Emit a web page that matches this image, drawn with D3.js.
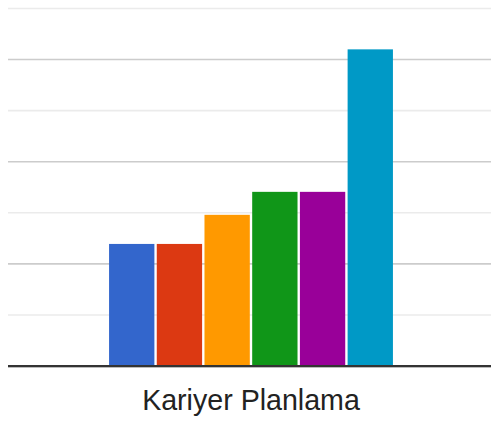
<!DOCTYPE html>
<html><head><meta charset="utf-8">
<script src="https://cdn.jsdelivr.net/npm/d3@7"></script>
<style>html,body{margin:0;padding:0;background:#fff;overflow:hidden}</style>
</head><body>
<svg id="chart" width="491" height="423"></svg>
<script>
const categories = ["Kariyer Planlama"];
const seriesNames = ["Seri 1", "Seri 2", "Seri 3", "Seri 4", "Seri 5", "Seri 6"];
const seriesValues = [2.39, 2.39, 2.96, 3.41, 3.41, 6.2];
const seriesColors = ["#3366cc", "#dc3912", "#ff9900", "#109618", "#990099", "#0099c6"];
const gridTicks = [1, 2, 3, 4, 5, 6, 7];

(function () {
const svg = d3.select("#chart");
const plotLeft = 8, plotRight = 494, plotBase = 366, plotTop = 8.5;

const y = d3.scaleLinear().domain([0, 7]).range([plotBase, plotTop]);
const x0 = d3.scaleBand().domain(categories).range([plotLeft, plotRight]).paddingOuter(0.356).paddingInner(0);
const x1 = d3.scaleBand().domain(seriesNames).range([0, x0.bandwidth()]).paddingInner(0.05).paddingOuter(0);

// gridlines
svg.append("g").selectAll("line").data(gridTicks).join("line")
  .attr("x1", plotLeft).attr("x2", 491)
  .attr("y1", d => y(d)).attr("y2", d => y(d))
  .attr("stroke", d => d % 2 === 0 ? "#cccccc" : "#ebebeb")
  .attr("stroke-width", 1.6);

// bars
const g = svg.append("g").selectAll("g").data(categories).join("g")
  .attr("transform", d => `translate(${x0(d)},0)`);
g.selectAll("rect").data(seriesNames.map((s, i) => ({s, v: seriesValues[i], c: seriesColors[i]})))
  .join("rect")
  .attr("x", d => x1(d.s))
  .attr("width", x1.bandwidth())
  .attr("y", d => y(d.v))
  .attr("height", d => y(0) - y(d.v))
  .attr("fill", d => d.c);

// baseline
svg.append("line").attr("x1", plotLeft).attr("x2", 491)
  .attr("y1", y(0) + 1.5).attr("y2", y(0) + 1.5)
  .attr("stroke", "#bbbbbb").attr("stroke-width", 1);
svg.append("line").attr("x1", plotLeft).attr("x2", 491)
  .attr("y1", y(0)).attr("y2", y(0))
  .attr("stroke", "#333333").attr("stroke-width", 2);

// category label
svg.append("g").selectAll("text").data(categories).join("text")
  .attr("x", d => x0(d) + x0.bandwidth() / 2)
  .attr("y", 410)
  .attr("text-anchor", "middle")
  .attr("font-family", "Arial, 'Liberation Sans', sans-serif")
  .attr("font-size", 28.6)
  .attr("fill", "#222222")
  .text(d => d);
})();
</script>
</body></html>
